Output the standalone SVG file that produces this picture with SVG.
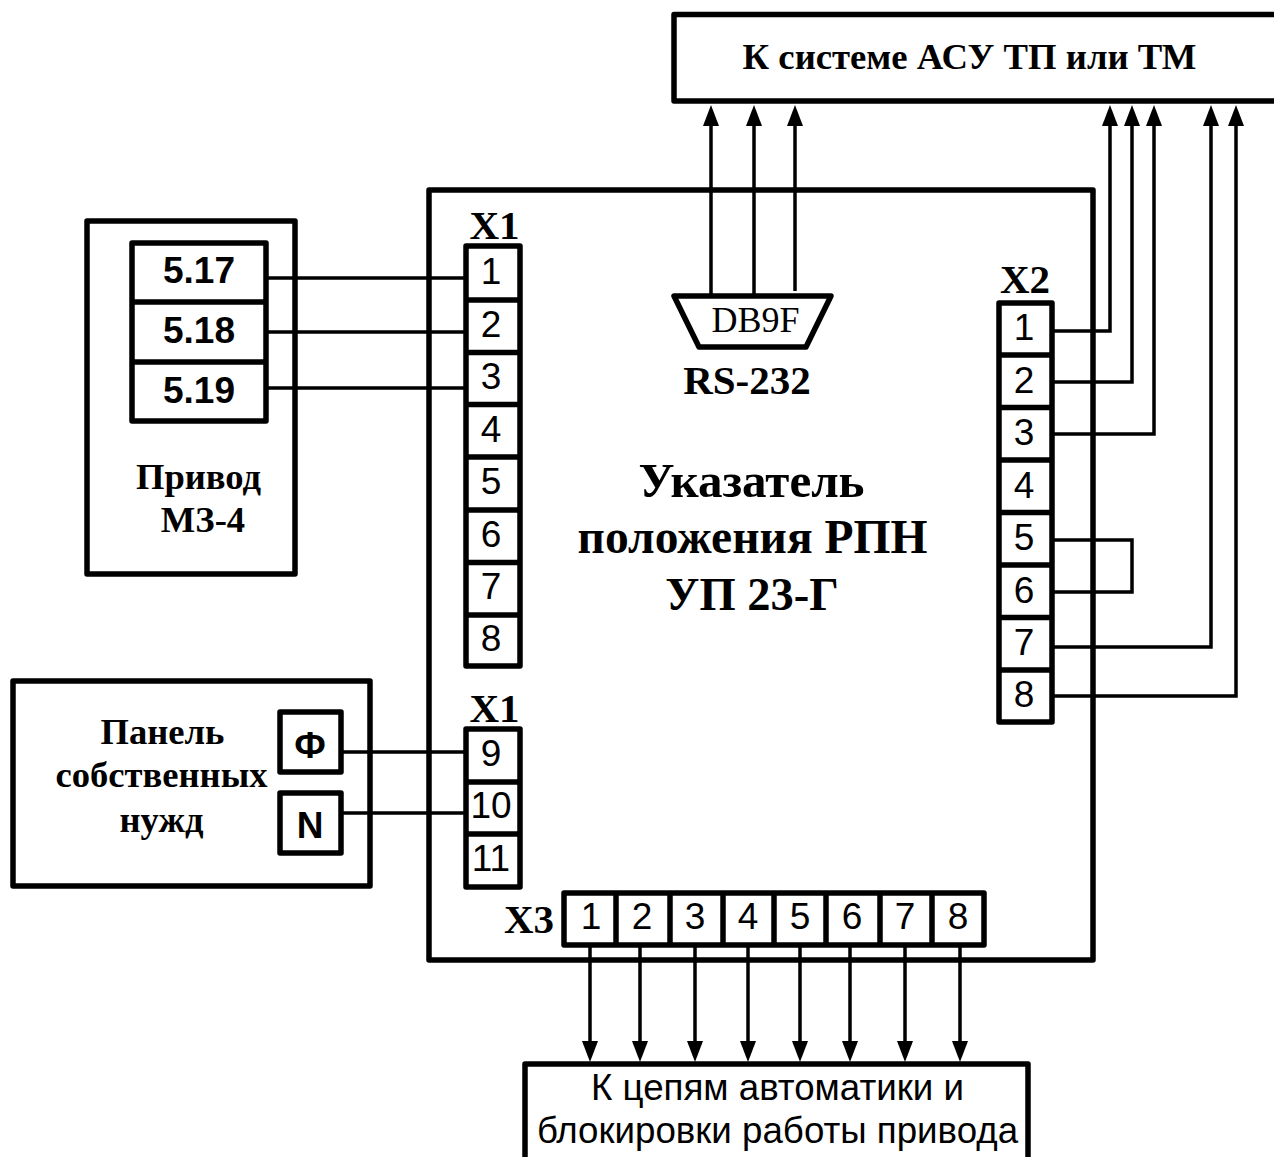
<svg xmlns="http://www.w3.org/2000/svg" width="1274" height="1157" viewBox="0 0 1274 1157">
<style>
.box{fill:none;stroke:#000;stroke-width:5.5;stroke-linejoin:round}
.w{fill:none;stroke:#000;stroke-width:3.5}
.a{fill:none;stroke:#000;stroke-width:3.5;marker-end:url(#arr)}
text{fill:#000;text-anchor:middle}
.sb{font-family:"Liberation Serif","Times New Roman",serif;font-weight:bold}
.d{font-family:"Liberation Sans",Arial,sans-serif;font-size:37px}
.l{font-family:"Liberation Sans",Arial,sans-serif;font-size:36.700px}
.db{font-family:"Liberation Sans",Arial,sans-serif;font-size:37px;font-weight:bold}
.x{font-size:41px}
.m{font-size:36.600px}
</style>
<defs>
<marker id="arr" markerUnits="userSpaceOnUse" markerWidth="22" markerHeight="18" refX="0" refY="9" orient="auto" overflow="visible"><path d="M0,1 L21,9 L0,17 Z" fill="#000"/></marker>
</defs>
<rect width="1274" height="1157" fill="#fff"/>
<g id="asu">
<path class="box" d="M1280,14.500H674V101H1280"/>
<text class="sb" x="969.500" y="69" font-size="36.700">К системе АСУ ТП или ТМ</text>
</g>
<g id="indicator">
<rect class="box" x="429" y="190" width="664" height="770"/>
<text class="sb" x="751.500" y="497" font-size="49">Указатель</text>
<text class="sb" x="752.500" y="553" font-size="47.500">положения РПН</text>
<text class="sb" x="752" y="610" font-size="46.500">УП 23-Г</text>
</g>
<g id="db9">
<path class="box" d="M674,296H831L806,347H699Z"/>
<text x="755.500" y="332" font-family="Liberation Serif,serif" font-size="36">DB9F</text>
<text class="sb x" x="747" y="394">RS-232</text>
</g>
<g id="privod">
<rect class="box" x="87" y="221" width="208" height="353"/>
<rect class="box" x="132" y="243" width="134" height="178"/>
<path class="box" d="M132,302H266M132,362H266"/>
<text class="db" x="199" y="283">5.17</text>
<text class="db" x="199" y="343">5.18</text>
<text class="db" x="199" y="403">5.19</text>
<text class="sb m" x="198.500" y="489">Привод</text>
<text class="sb m" x="203" y="532">МЗ-4</text>
</g>
<g id="panel">
<rect class="box" x="13" y="681" width="357" height="205"/>
<text class="sb m" x="162.500" y="744">Панель</text>
<text class="sb m" x="161.500" y="787">собственных</text>
<text class="sb m" x="161.500" y="832">нужд</text>
<rect class="box" x="280" y="712" width="61" height="60"/>
<rect class="box" x="280" y="793" width="61" height="60"/>
<text class="db" x="310" y="758">Ф</text>
<text class="db" x="310" y="838">N</text>
</g>
<g id="x1a">
<text class="sb x" x="494.500" y="239">X1</text>
<rect class="box" x="466" y="246" width="54" height="420"/>
<path class="box" d="M466,300H520M466,352.500H520M466,404.500H520M466,457H520M466,510H520M466,562.500H520M466,615H520"/>
<text class="d" x="491" y="284">1</text><text class="d" x="491" y="337">2</text><text class="d" x="491" y="389">3</text><text class="d" x="491" y="442">4</text><text class="d" x="491" y="494">5</text><text class="d" x="491" y="547">6</text><text class="d" x="491" y="599">7</text><text class="d" x="491" y="651">8</text>
</g>
<g id="x1b">
<text class="sb x" x="494.500" y="722">X1</text>
<rect class="box" x="466" y="729" width="54" height="158"/>
<path class="box" d="M466,782H520M466,834H520"/>
<text class="d" x="491" y="766">9</text><text class="d" x="491" y="818">10</text><text class="d" x="491" y="871">11</text>
</g>
<g id="x2">
<text class="sb x" x="1025" y="293">X2</text>
<rect class="box" x="999" y="303" width="53" height="419"/>
<path class="box" d="M999,355H1052M999,407.500H1052M999,460H1052M999,512.500H1052M999,565H1052M999,617.500H1052M999,670H1052"/>
<text class="d" x="1024" y="340">1</text><text class="d" x="1024" y="393">2</text><text class="d" x="1024" y="445">3</text><text class="d" x="1024" y="498">4</text><text class="d" x="1024" y="550">5</text><text class="d" x="1024" y="603">6</text><text class="d" x="1024" y="655">7</text><text class="d" x="1024" y="707">8</text>
</g>
<g id="x3">
<text class="sb x" x="529" y="933">X3</text>
<rect class="box" x="564" y="893" width="420" height="52"/>
<path class="box" d="M616,893V945M670,893V945M723,893V945M774,893V945M826,893V945M880,893V945M932,893V945"/>
<text class="d" x="591" y="929">1</text><text class="d" x="642" y="929">2</text><text class="d" x="695" y="929">3</text><text class="d" x="748" y="929">4</text><text class="d" x="800" y="929">5</text><text class="d" x="852" y="929">6</text><text class="d" x="905" y="929">7</text><text class="d" x="958" y="929">8</text>
</g>
<g id="circuits">
<path class="box" d="M525,1165V1064H1028V1165"/>
<text class="l" x="777.500" y="1100">К цепям автоматики и</text>
<text class="l" x="777.500" y="1143">блокировки работы привода</text>
</g>
<g id="connectors">
<path class="w" d="M266,278H466M266,332H466M266,388H466M341,752H466M341,813H466"/>
<path class="a" d="M711,295V126"/><path class="a" d="M754,295V126"/><path class="a" d="M795,291V126"/>
<path class="a" d="M1052,331H1110V126"/><path class="a" d="M1052,382H1132V126"/><path class="a" d="M1052,434H1154V126"/>
<path class="a" d="M1052,647H1211V126"/><path class="a" d="M1052,696H1236V126"/>
<path class="w" d="M1052,540H1132V592H1052"/>
<path class="a" d="M590,945V1041"/><path class="a" d="M640,945V1041"/><path class="a" d="M695,945V1041"/><path class="a" d="M748,945V1041"/><path class="a" d="M800,945V1041"/><path class="a" d="M850,945V1041"/><path class="a" d="M905,945V1041"/><path class="a" d="M960,945V1041"/>
</g>
</svg>
